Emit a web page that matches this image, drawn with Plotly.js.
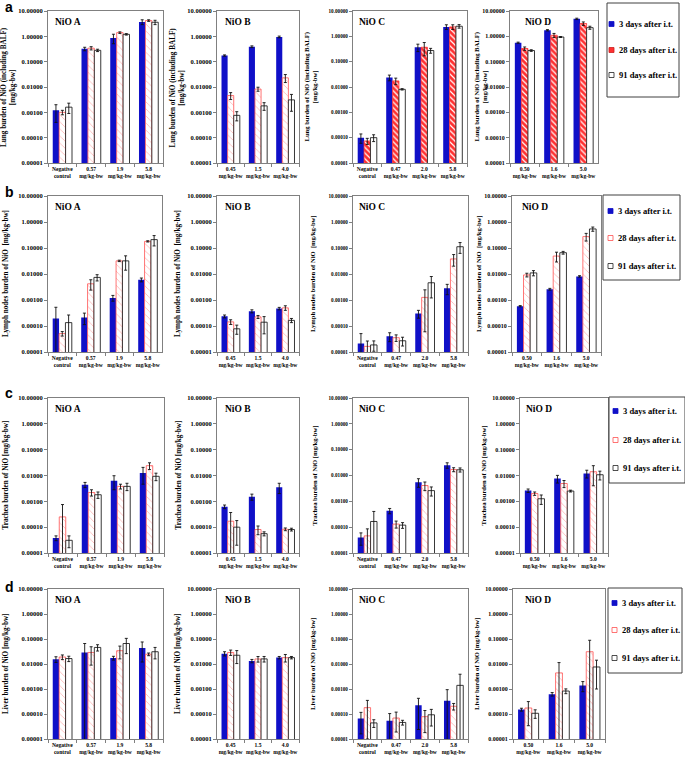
<!DOCTYPE html>
<html><head><meta charset="utf-8">
<script src="https://cdn.plot.ly/plotly-3.0.1.min.js"></script>
<style>body{margin:0;padding:0;background:#fff}</style>
</head><body><div id="chart" style="width:685px;height:758px"></div>
<script>
// ---------- categories / labels ----------
const catsA = ['Negative<br>control','0.57<br>mg/kg-bw','1.9<br>mg/kg-bw','5.8<br>mg/kg-bw'];
const catsB = ['0.45<br>mg/kg-bw','1.5<br>mg/kg-bw','4.0<br>mg/kg-bw'];
const catsC = ['Negative<br>control','0.47<br>mg/kg-bw','2.0<br>mg/kg-bw','5.8<br>mg/kg-bw'];
const catsD = ['0.50<br>mg/kg-bw','1.6<br>mg/kg-bw','5.0<br>mg/kg-bw'];
const seriesNames = ['3 days after i.t.','28 days after i.t.','91 days after i.t.'];
const panelTitles = ['NiO A','NiO B','NiO C','NiO D'];
const rowLetters = ['a','b','c','d'];
const yTitles = ['Lung burden of NiO (including BALF)<br>[mg/kg-bw]',
                 'Lymph nodes burden of NiO  [mg/kg-bw]',
                 'Trachea burden of NiO [mg/kg-bw]',
                 'Liver burden of NiO [mg/kg-bw]'];
const yTickVals = [0.00001,0.0001,0.001,0.01,0.1,1,10];
const yTickText = ['0.00001','0.00010','0.00100','0.01000','0.10000','1.00000','10.00000'];

// ---------- row a: lung ----------
const lungA_3d = [0.0012,0.32,0.86,3.7],      lungA_3dErr = [0.0008,0.05,0.35,0.8];
const lungA_28d = [0.0010,0.34,1.40,4.2],     lungA_28dErr = [0.0002,0.05,0.10,0.3];
const lungA_91d = [0.0016,0.28,1.20,3.6],     lungA_91dErr = [0.0007,0.03,0.08,0.7];
const lungB_3d = [0.175,0.39,0.95],           lungB_3dErr = [0.01,0.03,0.07];
const lungB_28d = [0.0046,0.0083,0.023],      lungB_28dErr = [0.0014,0.0015,0.008];
const lungB_91d = [0.00076,0.0018,0.0031],    lungB_91dErr = [0.0003,0.0006,0.002];
const lungC_3d = [0.0001,0.0235,0.37,2.36],   lungC_3dErr = [0.00004,0.006,0.12,0.5];
const lungC_28d = [0.000074,0.0174,0.37,2.36],lungC_28dErr = [0.00002,0.005,0.2,0.5];
const lungC_91d = [0.0001,0.0081,0.275,2.5],  lungC_91dErr = [0.00003,0.0005,0.06,0.4];
const lungD_3d = [0.56,1.74,4.9],             lungD_3dErr = [0.03,0.1,0.3];
const lungD_28d = [0.33,1.1,3.2],             lungD_28dErr = [0.05,0.2,0.5];
const lungD_91d = [0.275,0.94,2.2],           lungD_91dErr = [0.02,0.04,0.3];

// ---------- row b: lymph nodes ----------
const lymphA_3d = [0.000195,0.000213,0.0012,0.006],  lymphA_3dErr = [0.00033,0.0001,0.0003,0.001];
const lymphA_28d = [0.000051,0.0042,0.032,0.18],     lymphA_28dErr = [0.00001,0.0018,0.002,0.01];
const lymphA_91d = [0.000135,0.0074,0.032,0.21],     lymphA_91dErr = [0.00013,0.002,0.018,0.09];
const lymphB_3d = [0.000235,0.00037,0.00047],        lymphB_3dErr = [0.00003,0.00005,0.00005];
const lymphB_28d = [0.000144,0.000224,0.0005],       lymphB_28dErr = [0.00003,0.00003,0.0001];
const lymphB_91d = [0.000078,0.00014,0.000165],      lymphB_91dErr = [0.00003,0.00009,0.00003];
const lymphC_3d = [0.000021,0.00004,0.0003,0.0028],  lymphC_3dErr = [0.00003,0.000015,0.0001,0.0012];
const lymphC_28d = [0.0000165,0.0000355,0.00126,0.038], lymphC_28dErr = [0.00001,0.00001,0.0012,0.018];
const lymphC_91d = [0.0000187,0.000027,0.0046,0.112],   lymphC_91dErr = [0.000008,0.00001,0.0034,0.05];
const lymphD_3d = [0.00058,0.0026,0.0081],           lymphD_3dErr = [0.00003,0.0002,0.0005];
const lymphD_28d = [0.0092,0.049,0.275],             lymphD_28dErr = [0.0015,0.02,0.09];
const lymphD_91d = [0.011,0.066,0.54],               lymphD_91dErr = [0.0025,0.008,0.1];

// ---------- row c: trachea ----------
const trachA_3d = [0.000038,0.0044,0.0063,0.0126],   trachA_3dErr = [0.000008,0.001,0.0035,0.008];
const trachA_28d = [0.00025,0.0022,0.0038,0.024],    trachA_28dErr = [0.0005,0.0006,0.0008,0.007];
const trachA_91d = [0.000031,0.0018,0.0038,0.0093],  trachA_91dErr = [0.000015,0.0005,0.0012,0.003];
const trachB_3d = [0.00062,0.0015,0.0035],           trachB_3dErr = [0.0001,0.0004,0.0015];
const trachB_28d = [0.00017,0.000081,0.000083],      trachB_28dErr = [0.0002,0.00003,0.00001];
const trachB_91d = [0.0001,0.000056,0.000081],       trachB_91dErr = [0.00008,0.00001,0.00001];
const trachC_3d = [0.00004,0.00043,0.0055,0.025],    trachC_3dErr = [0.00002,0.0001,0.002,0.006];
const trachC_28d = [0.000046,0.000132,0.0041,0.017], trachC_28dErr = [0.00004,0.00004,0.0015,0.003];
const trachC_91d = [0.000166,0.00012,0.0026,0.0166], trachC_91dErr = [0.00024,0.00003,0.001,0.003];
const trachD_3d = [0.0026,0.0076,0.012],             trachD_3dErr = [0.0004,0.0025,0.004];
const trachD_28d = [0.002,0.0049,0.014],             trachD_28dErr = [0.0003,0.0015,0.01];
const trachD_91d = [0.00126,0.0025,0.0107],          trachD_91dErr = [0.0005,0.0002,0.004];

// ---------- row d: liver ----------
const liverA_3d = [0.0155,0.029,0.0173,0.044],       liverA_3dErr = [0.004,0.037,0.003,0.032];
const liverA_28d = [0.019,0.029,0.034,0.0245],       liverA_28dErr = [0.004,0.02,0.018,0.003];
const liverA_91d = [0.0165,0.046,0.066,0.031],       liverA_91dErr = [0.004,0.013,0.04,0.015];
const liverB_3d = [0.026,0.0132,0.018],              liverB_3dErr = [0.005,0.002,0.002];
const liverB_28d = [0.029,0.0159,0.018],             liverB_28dErr = [0.007,0.004,0.006];
const liverB_91d = [0.0224,0.016,0.018],             liverB_91dErr = [0.012,0.004,0.002];
const liverC_3d = [0.000066,0.000054,0.000224,0.00034], liverC_3dErr = [0.00005,0.00005,0.0002,0.0006];
const liverC_28d = [0.00018,0.000069,0.000078,0.000204], liverC_28dErr = [0.00017,0.00005,0.00006,0.00006];
const liverC_91d = [0.000044,0.000046,0.000093,0.0014], liverC_91dErr = [0.000015,0.00001,0.00006,0.0025];
const liverD_3d = [0.00015,0.00062,0.00138],         liverD_3dErr = [0.00002,0.0001,0.0006];
const liverD_28d = [0.000174,0.0044,0.031],          liverD_28dErr = [0.00014,0.007,0.058];
const liverD_91d = [0.000107,0.00083,0.0076],        liverD_91dErr = [0.00004,0.00018,0.0066];

// ---------- assemble panels from the arrays ----------
const panels = [
  [ {cats:catsA, v:[lungA_3d,lungA_28d,lungA_91d], e:[lungA_3dErr,lungA_28dErr,lungA_91dErr]},
    {cats:catsB, v:[lungB_3d,lungB_28d,lungB_91d], e:[lungB_3dErr,lungB_28dErr,lungB_91dErr]},
    {cats:catsC, v:[lungC_3d,lungC_28d,lungC_91d], e:[lungC_3dErr,lungC_28dErr,lungC_91dErr]},
    {cats:catsD, v:[lungD_3d,lungD_28d,lungD_91d], e:[lungD_3dErr,lungD_28dErr,lungD_91dErr]} ],
  [ {cats:catsA, v:[lymphA_3d,lymphA_28d,lymphA_91d], e:[lymphA_3dErr,lymphA_28dErr,lymphA_91dErr]},
    {cats:catsB, v:[lymphB_3d,lymphB_28d,lymphB_91d], e:[lymphB_3dErr,lymphB_28dErr,lymphB_91dErr]},
    {cats:catsC, v:[lymphC_3d,lymphC_28d,lymphC_91d], e:[lymphC_3dErr,lymphC_28dErr,lymphC_91dErr]},
    {cats:catsD, v:[lymphD_3d,lymphD_28d,lymphD_91d], e:[lymphD_3dErr,lymphD_28dErr,lymphD_91dErr]} ],
  [ {cats:catsA, v:[trachA_3d,trachA_28d,trachA_91d], e:[trachA_3dErr,trachA_28dErr,trachA_91dErr]},
    {cats:catsB, v:[trachB_3d,trachB_28d,trachB_91d], e:[trachB_3dErr,trachB_28dErr,trachB_91dErr]},
    {cats:catsC, v:[trachC_3d,trachC_28d,trachC_91d], e:[trachC_3dErr,trachC_28dErr,trachC_91dErr]},
    {cats:catsD, v:[trachD_3d,trachD_28d,trachD_91d], e:[trachD_3dErr,trachD_28dErr,trachD_91dErr]} ],
  [ {cats:catsA, v:[liverA_3d,liverA_28d,liverA_91d], e:[liverA_3dErr,liverA_28dErr,liverA_91dErr]},
    {cats:catsB, v:[liverB_3d,liverB_28d,liverB_91d], e:[liverB_3dErr,liverB_28dErr,liverB_91dErr]},
    {cats:catsC, v:[liverC_3d,liverC_28d,liverC_91d], e:[liverC_3dErr,liverC_28dErr,liverC_91dErr]},
    {cats:catsD, v:[liverD_3d,liverD_28d,liverD_91d], e:[liverD_3dErr,liverD_28dErr,liverD_91dErr]} ]
];

// ---------- layout geometry (pixels) ----------
const W = 685, H = 758;
const rowsY = [[11,163],[196,352],[398,553],[589,739]];
const colsX = [
  [[48,163],[217,299],[353,467],[510,598]],
  [[48,162],[217,299],[353,468],[512,601]],
  [[48,164],[217,299],[353,468],[520,608]],
  [[48,163],[217,299],[353,468],[513,605]]
];
const yTitleX = [[8,176.5,310.5,480.5],[6,178,313,479],[5,178,314,483],[6,178,313,477]];
const titleDX = [[5,6,4,13],[5,6,4,8],[5,6,4,4],[5,6,4,10]];
const tickFs = [6.5,6.5,5.2,6];
const yTitleFs = [7.2,7.2,6.6,6.6];
const letterY = [7,192,393,587];
const legendBox = [[607,3,679,97],[603,195,680,280],[609,397,685,483],[608,588,682,673]];
const legendItemY = [[24,50,75],[211,238,266],[411,440,468],[603,630,658]];
const legendSwX = [609,608,613,612];

const SERIF = 'Liberation Serif, Times New Roman, serif';
const BLUE = '#1010c8', RED = '#ff3030', PINK = '#ffb0b0', REDLINE = '#ff5050', DARK = '#222222';

const px = p => p / W;
const py = p => 1 - p / H;

const traces = [];
const layout = {
  width: W, height: H, margin: {l:0, r:0, t:0, b:0},
  paper_bgcolor: '#fff', plot_bgcolor: '#fff',
  showlegend: false, barmode: 'group', bargap: 0.33, bargroupgap: 0,
  font: {family: SERIF, color: '#000'},
  annotations: [], shapes: []
};

for (let r = 0; r < 4; r++) {
  for (let c = 0; c < 4; c++) {
    const idx = r * 4 + c + 1;
    const xs = idx === 1 ? '' : String(idx);
    const [x0, x1] = colsX[r][c];
    const [y0, y1] = rowsY[r];
    const p = panels[r][c];
    const solidRed = (r === 0 && (c === 2 || c === 3));
    for (let s = 0; s < 3; s++) {
      let marker;
      if (s === 0) marker = {color: BLUE, line: {color: BLUE, width: 0}};
      else if (s === 1) marker = solidRed
        ? {color: RED, line: {color: RED, width: 0.8}, pattern: {shape: '\\', fgcolor: '#ffffff', bgcolor: RED, size: 4, solidity: 0.3}}
        : {color: '#ffffff', line: {color: REDLINE, width: 0.8}, pattern: {shape: '\\', fgcolor: PINK, bgcolor: '#ffffff', size: 5, solidity: 0.15}};
      else marker = {color: '#ffffff', line: {color: DARK, width: 0.9}};
      traces.push({
        type: 'bar', name: seriesNames[s], x: p.cats, y: p.v[s],
        xaxis: 'x' + xs, yaxis: 'y' + xs, marker: marker,
        error_y: {type: 'data', array: p.e[s], symmetric: true, visible: true, color: '#111', thickness: 0.9, width: 1.5},
        showlegend: false, hoverinfo: 'skip'
      });
    }
    layout['xaxis' + xs] = {
      domain: [px(x0), px(x1)], anchor: 'y' + xs, type: 'category',
      showline: true, linecolor: '#808080', linewidth: 1, mirror: true,
      ticks: 'outside', tickson: 'boundaries', ticklen: 3, tickcolor: '#808080',
      tickangle: 0, showgrid: false, zeroline: false, fixedrange: true,
      tickfont: {family: SERIF, size: 5.6, color: '#000', weight: 'bold'}
    };
    layout['yaxis' + xs] = {
      domain: [py(y1), py(y0)], anchor: 'x' + xs, type: 'log', range: [-5, 1],
      tickmode: 'array', tickvals: yTickVals, ticktext: yTickText,
      ticks: 'outside', ticklen: 3, tickcolor: '#808080',
      showline: true, linecolor: '#808080', linewidth: 1, mirror: true,
      showgrid: false, zeroline: false, fixedrange: true,
      tickfont: {family: SERIF, size: tickFs[c], color: '#000', weight: 'bold'}
    };
    // panel title
    layout.annotations.push({
      xref: 'paper', yref: 'paper', x: px(x0 + titleDX[r][c]), y: py(y0 + 11),
      xanchor: 'left', yanchor: 'middle', showarrow: false, text: panelTitles[c],
      font: {family: SERIF, size: 9.5, color: '#000', weight: 'bold'}
    });
    // y-axis title
    layout.annotations.push({
      xref: 'paper', yref: 'paper', x: px(yTitleX[r][c]), y: py((y0 + y1) / 2),
      xanchor: 'center', yanchor: 'middle', showarrow: false, textangle: -90,
      text: yTitles[r],
      font: {family: SERIF, size: yTitleFs[c], color: '#000', weight: 'bold'}
    });
  }
  // row letter
  layout.annotations.push({
    xref: 'paper', yref: 'paper', x: px(3), y: py(letterY[r]),
    xanchor: 'left', yanchor: 'middle', showarrow: false, text: rowLetters[r],
    font: {family: 'Liberation Sans, Arial, sans-serif', size: 14, color: '#000', weight: 'bold'}
  });
  // legend (drawn as box, swatches and text)
  const [lx0, ly0, lx1, ly1] = legendBox[r];
  layout.shapes.push({type: 'rect', xref: 'paper', yref: 'paper', x0: px(lx0), x1: px(lx1), y0: py(ly1), y1: py(ly0),
    line: {color: '#404040', width: 1}, fillcolor: 'rgba(0,0,0,0)'});
  for (let s = 0; s < 3; s++) {
    const cy = legendItemY[r][s], sx = legendSwX[r];
    let fill, lc;
    if (s === 0) { fill = BLUE; lc = BLUE; }
    else if (s === 1) { fill = r === 0 ? RED : '#ffffff'; lc = r === 0 ? '#cc2020' : REDLINE; }
    else { fill = '#ffffff'; lc = DARK; }
    layout.shapes.push({type: 'rect', xref: 'paper', yref: 'paper',
      x0: px(sx), x1: px(sx + 5), y0: py(cy + 2.5), y1: py(cy - 2.5),
      line: {color: lc, width: 0.8}, fillcolor: fill});
    layout.annotations.push({
      xref: 'paper', yref: 'paper', x: px(sx + 8), y: py(cy),
      xanchor: 'left', yanchor: 'middle', showarrow: false, text: seriesNames[s],
      font: {family: SERIF, size: 8.5, color: '#000', weight: 'bold'}
    });
  }
}

Plotly.newPlot('chart', traces, layout, {staticPlot: true, displayModeBar: false});
</script></body></html>
